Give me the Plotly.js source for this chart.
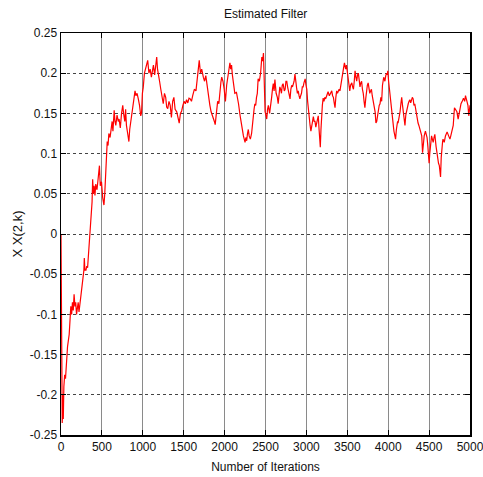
<!DOCTYPE html>
<html>
<head>
<meta charset="utf-8">
<script src="https://cdn.plot.ly/plotly-3.0.1.min.js"></script>
<style>html,body{margin:0;padding:0;background:#fff;}#chart{width:483px;height:477px;}</style>
</head>
<body>
<div id="chart"></div>
<script>
var iterations = [
0,4,10,15,22,28,35,45,55,65,80,100,110,120,130,140,150,160,170,180,190,200,210,220,240,260,270,280,285,292,305,315,325,335,345,350,360,370,380,387,395,405,415,425,440,455,470,480,495,510,525,535,545,555,565,575,585,600,615,625,635,650,660,670,685,700,710,725,740,755,765,780,790,800,815,830,840,855,875,890,905,915,930,945,960,975,985,995,1005,1020,1035,1050,1060,1075,1090,1105,1115,1130,1145,1160,1170,1180,1190,1205,1220,1235,1250,1265,1280,1292,1305,1320,1335,1350,1365,1380,1395,1415,1430,1445,1460,1475,1490,1505,1520,1535,1550,1565,1580,1595,1610,1630,1650,1670,1690,1705,1720,1740,1755,1770,1790,1805,1820,1835,1850,1860,1875,1885,1900,1915,1930,1945,1955,1965,1980,1995,2010,2025,2045,2055,2065,2075,2085,2095,2105,2125,2145,2160,2170,2190,2200,2210,2220,2230,2240,2250,2260,2270,2280,2290,2300,2315,2330,2340,2350,2360,2370,2380,2390,2400,2410,2425,2440,2455,2465,2475,2482,2490,2495,2505,2515,2525,2535,2550,2565,2575,2585,2595,2605,2615,2630,2645,2655,2665,2675,2685,2695,2705,2715,2730,2740,2750,2760,2770,2780,2790,2800,2810,2820,2830,2840,2850,2860,2870,2880,2890,2900,2910,2920,2930,2940,2950,2960,2970,2985,2995,3005,3015,3025,3035,3045,3055,3065,3075,3085,3095,3105,3115,3125,3135,3145,3155,3165,3170,3178,3185,3195,3205,3215,3225,3235,3245,3255,3265,3280,3295,3310,3320,3330,3340,3350,3360,3370,3380,3390,3400,3410,3420,3430,3440,3450,3460,3465,3472,3480,3490,3500,3510,3520,3530,3540,3555,3565,3575,3585,3595,3605,3615,3625,3635,3645,3655,3665,3675,3685,3695,3705,3715,3725,3735,3745,3755,3765,3775,3785,3795,3805,3815,3825,3840,3850,3860,3870,3880,3890,3900,3910,3920,3930,3945,3960,3970,3980,3990,3995,4005,4010,4020,4030,4040,4050,4055,4065,4070,4080,4090,4100,4105,4115,4120,4135,4145,4155,4165,4175,4185,4195,4205,4215,4225,4235,4245,4255,4265,4275,4285,4295,4305,4315,4325,4335,4345,4355,4365,4375,4385,4395,4410,4420,4430,4440,4455,4465,4475,4485,4495,4500,4508,4515,4530,4540,4550,4560,4570,4585,4595,4605,4615,4625,4635,4640,4648,4655,4665,4670,4685,4700,4710,4720,4735,4745,4755,4765,4775,4785,4795,4810,4825,4840,4855,4870,4880,4890,4905,4920,4935,4945,4955,4965,4975,4985,4992,5000
];
var estimates = [
0.0,-0.15,-0.2,-0.235,-0.2,-0.23,-0.19,-0.175,-0.18,-0.16,-0.14,-0.125,-0.105,-0.09,-0.1,-0.085,-0.095,-0.075,-0.09,-0.085,-0.1,-0.093,-0.085,-0.097,-0.08,-0.06,-0.05,-0.045,-0.03,-0.045,-0.045,-0.04,-0.042,-0.025,-0.01,0.0,0.01,0.03,0.04,0.068,0.05,0.06,0.048,0.062,0.055,0.07,0.085,0.06,0.065,0.045,0.036,0.05,0.075,0.1,0.115,0.11,0.125,0.12,0.13,0.14,0.128,0.154,0.14,0.135,0.148,0.14,0.143,0.132,0.15,0.16,0.15,0.14,0.155,0.135,0.125,0.115,0.13,0.14,0.154,0.165,0.178,0.172,0.175,0.168,0.16,0.147,0.151,0.175,0.182,0.2,0.205,0.21,0.216,0.2,0.205,0.195,0.2,0.21,0.198,0.212,0.22,0.205,0.2,0.19,0.18,0.17,0.162,0.175,0.17,0.158,0.156,0.165,0.16,0.145,0.165,0.17,0.155,0.152,0.145,0.138,0.15,0.153,0.16,0.165,0.162,0.167,0.163,0.169,0.168,0.165,0.172,0.18,0.178,0.195,0.216,0.2,0.205,0.195,0.19,0.197,0.18,0.17,0.16,0.152,0.148,0.145,0.14,0.136,0.148,0.165,0.162,0.182,0.189,0.195,0.19,0.18,0.165,0.185,0.2,0.205,0.213,0.205,0.21,0.198,0.188,0.175,0.176,0.168,0.162,0.147,0.14,0.13,0.126,0.122,0.118,0.114,0.12,0.116,0.125,0.13,0.122,0.118,0.125,0.135,0.152,0.155,0.162,0.16,0.17,0.175,0.193,0.19,0.2,0.22,0.215,0.225,0.2,0.17,0.152,0.148,0.143,0.155,0.16,0.15,0.16,0.17,0.18,0.187,0.178,0.192,0.175,0.17,0.162,0.175,0.183,0.18,0.175,0.185,0.187,0.178,0.18,0.19,0.19,0.183,0.178,0.172,0.168,0.18,0.185,0.183,0.187,0.19,0.199,0.185,0.182,0.175,0.178,0.172,0.168,0.172,0.175,0.183,0.183,0.188,0.193,0.185,0.18,0.165,0.152,0.14,0.135,0.128,0.133,0.138,0.146,0.14,0.14,0.133,0.138,0.143,0.147,0.13,0.115,0.108,0.13,0.147,0.16,0.169,0.165,0.17,0.168,0.171,0.175,0.177,0.172,0.175,0.178,0.172,0.17,0.163,0.157,0.17,0.178,0.175,0.179,0.18,0.178,0.185,0.195,0.2,0.205,0.21,0.213,0.205,0.205,0.21,0.2,0.192,0.185,0.178,0.185,0.188,0.183,0.18,0.19,0.203,0.195,0.19,0.198,0.2,0.192,0.183,0.188,0.19,0.18,0.175,0.165,0.157,0.168,0.18,0.185,0.188,0.182,0.175,0.178,0.18,0.172,0.167,0.16,0.152,0.138,0.14,0.147,0.155,0.16,0.162,0.17,0.165,0.185,0.195,0.19,0.197,0.2,0.198,0.203,0.19,0.185,0.175,0.165,0.157,0.145,0.136,0.13,0.128,0.123,0.118,0.13,0.136,0.14,0.138,0.145,0.152,0.162,0.17,0.16,0.15,0.14,0.135,0.148,0.153,0.16,0.162,0.165,0.167,0.163,0.169,0.17,0.168,0.16,0.162,0.155,0.147,0.143,0.138,0.135,0.13,0.128,0.122,0.101,0.115,0.122,0.128,0.125,0.12,0.109,0.095,0.088,0.1,0.109,0.122,0.118,0.114,0.12,0.124,0.109,0.1,0.092,0.088,0.085,0.078,0.071,0.095,0.109,0.115,0.118,0.114,0.122,0.125,0.127,0.123,0.12,0.118,0.122,0.127,0.13,0.135,0.157,0.155,0.152,0.143,0.152,0.158,0.162,0.165,0.169,0.165,0.172,0.168,0.165,0.16,0.147,0.158,0.16
];
var xTickVals = [0,500,1000,1500,2000,2500,3000,3500,4000,4500,5000];
var xTickText = ["0","500","1000","1500","2000","2500","3000","3500","4000","4500","5000"];
var yTickVals = [-0.25,-0.2,-0.15,-0.1,-0.05,0,0.05,0.1,0.15,0.2,0.25];
var yTickText = ["-0.25","-0.2","-0.15","-0.1","-0.05","0","0.05","0.1","0.15","0.2","0.25"];

var trace = {
  x: iterations, y: estimates, type: 'scatter', mode: 'lines',
  line: {color: '#ff0000', width: 1.2}, hoverinfo: 'skip'
};
var fnt = {family: 'Liberation Sans, Arial, sans-serif', size: 12, color: '#111'};
var layout = {
  width: 483, height: 477,
  margin: {l: 61, r: 13, t: 33, b: 42},
  paper_bgcolor: '#fff', plot_bgcolor: '#fff',
  showlegend: false,
  font: fnt,
  title: {text: 'Estimated Filter', font: {family: fnt.family, size: 12, color: '#111'},
          x: 0.55, xanchor: 'center', y: 0.972, yanchor: 'middle', yref: 'container'},
  xaxis: {
    range: [0, 5000], tickvals: xTickVals, ticktext: xTickText,
    showgrid: true, gridcolor: '#8a8a8a', gridwidth: 1, griddash: 'solid',
    zeroline: false, showline: true, linecolor: '#000', linewidth: 1.5, mirror: 'ticks',
    ticks: 'inside', ticklen: 5, tickcolor: '#000',
    tickfont: fnt, ticklabeloverflow: 'allow',
    title: {text: 'Number of Iterations', font: fnt, standoff: 9}
  },
  yaxis: {
    range: [-0.25, 0.25], tickvals: yTickVals, ticktext: yTickText,
    showgrid: true, gridcolor: '#444', gridwidth: 1, griddash: 'dot',
    zeroline: false, showline: true, linecolor: '#000', linewidth: 1.5, mirror: 'ticks',
    ticks: 'inside', ticklen: 5, tickcolor: '#000',
    tickfont: fnt, ticklabeloverflow: 'allow',
    title: {text: 'X X(2,k)', font: {family: fnt.family, size: 13, color: '#111'}, standoff: 4}
  }
};
Plotly.newPlot('chart', [trace], layout, {staticPlot: true, displayModeBar: false});
</script>
</body>
</html>
